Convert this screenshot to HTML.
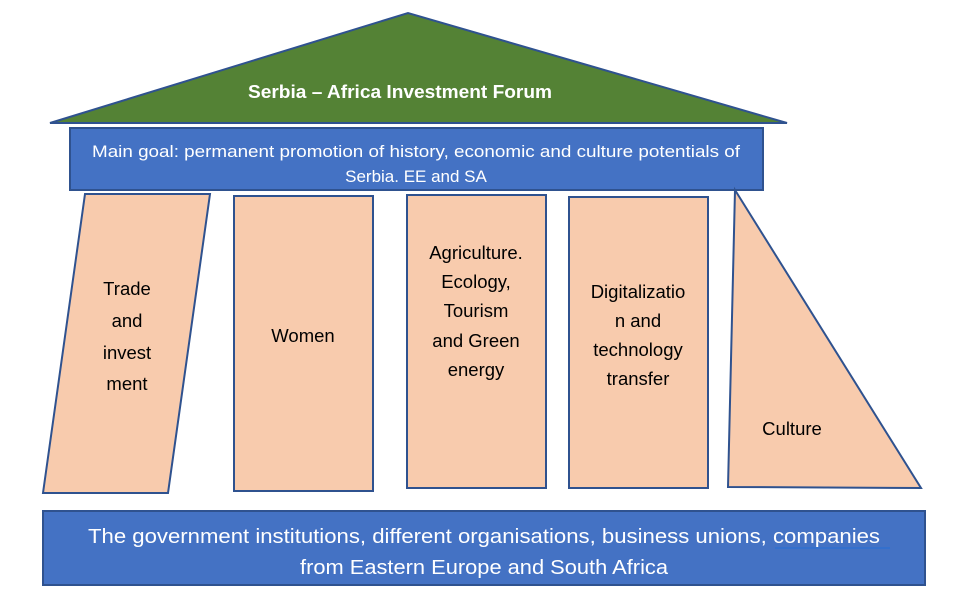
<!DOCTYPE html>
<html><head><meta charset="utf-8"><style>
html,body{margin:0;padding:0;background:#fff;}
svg{display:block;}
text{font-family:"Liberation Sans",sans-serif;}
</style></head><body>
<svg width="967" height="605" viewBox="0 0 967 605" xmlns="http://www.w3.org/2000/svg">
<polygon points="50,123 408,13 787,123" fill="#548235" stroke="#2f528f" stroke-width="2"/>
<text x="248" y="98" font-size="18" font-weight="bold" fill="#fff" textLength="304" lengthAdjust="spacingAndGlyphs">Serbia – Africa Investment Forum</text>
<rect x="70" y="128" width="693" height="62" fill="#4472c4" stroke="#2f528f" stroke-width="2"/>
<text x="92" y="157" font-size="17" fill="#fff" textLength="648" lengthAdjust="spacingAndGlyphs">Main goal: permanent promotion of history, economic and culture potentials of</text>
<text x="416" y="182" text-anchor="middle" font-size="17" fill="#fff">Serbia. EE  and SA</text>
<g fill="#f8cbad" stroke="#2f528f" stroke-width="2">
<polygon points="85,194 210,194 168,493 43,493"/>
<rect x="234" y="196" width="139" height="295"/>
<rect x="407" y="195" width="139" height="293"/>
<rect x="569" y="197" width="139" height="291"/>
<polygon points="735,190 921,488 728,487"/>
</g>
<g font-size="18.5" fill="#000" text-anchor="middle">
<text x="127" y="295">Trade</text>
<text x="127" y="327">and</text>
<text x="127" y="359">invest</text>
<text x="127" y="390">ment</text>
<text x="303" y="342">Women</text>
<text x="476" y="259">Agriculture.</text>
<text x="476" y="288">Ecology,</text>
<text x="476" y="317">Tourism</text>
<text x="476" y="347">and Green</text>
<text x="476" y="376">energy</text>
<text x="638" y="298">Digitalizatio</text>
<text x="638" y="327">n and</text>
<text x="638" y="356">technology</text>
<text x="638" y="385">transfer</text>
<text x="792" y="435">Culture</text>
</g>
<rect x="43" y="511" width="882" height="74" fill="#4472c4" stroke="#2f528f" stroke-width="2"/>
<text x="88" y="543" font-size="20.5" fill="#fff" textLength="792" lengthAdjust="spacingAndGlyphs">The government institutions, different organisations, business unions, companies</text>
<text x="484" y="574" text-anchor="middle" font-size="20.5" fill="#fff" textLength="368" lengthAdjust="spacingAndGlyphs">from Eastern Europe and South Africa</text>
<line x1="775" y1="548" x2="890" y2="548" stroke="#2f6fd0" stroke-width="1.5"/>
</svg>
</body></html>
